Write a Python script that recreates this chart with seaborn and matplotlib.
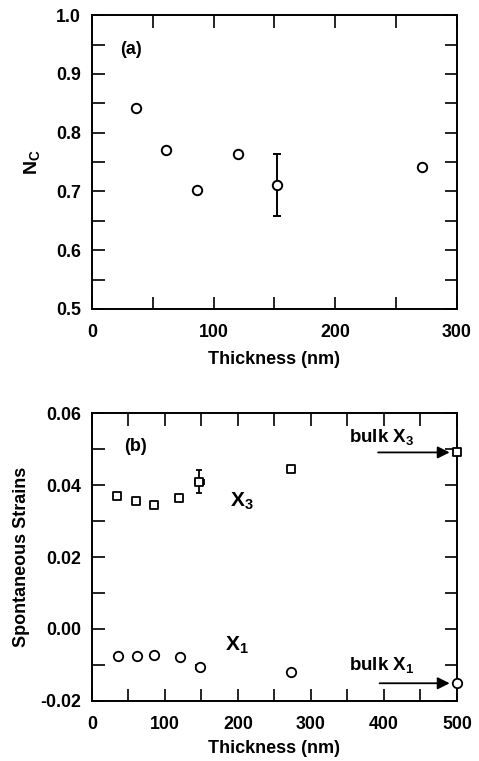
import numpy as np
import pandas as pd
import matplotlib
matplotlib.use("Agg")
import matplotlib.pyplot as plt
from matplotlib.ticker import MultipleLocator
import seaborn as sns

# panel (a): N_C vs thickness
thick_a = [36, 61, 86, 120, 152, 271]
nc = [0.842, 0.770, 0.703, 0.763, 0.711, 0.742]
nc_err_idx = 4
nc_err = 0.052

# panel (b): spontaneous strains vs thickness
thick_x3 = [34, 61, 85, 119, 147, 272, 500]
x3 = [0.0371, 0.0357, 0.0345, 0.0364, 0.0410, 0.0446, 0.0491]
thick_x1 = [35, 62, 85, 120, 148, 272, 500]
x1 = [-0.0076, -0.0076, -0.0073, -0.0078, -0.0105, -0.0120, -0.0150]
err_idx = 4
x3_yerr = 0.0033
x_err = 6

sns.set_style("ticks")
plt.rcParams['font.family'] = ['Liberation Sans', 'DejaVu Sans']
plt.rcParams['font.size'] = 12.5
plt.rcParams['font.weight'] = 'bold'
plt.rcParams['mathtext.default'] = 'regular'
plt.rcParams['axes.linewidth'] = 1.4
for key in ['text.color', 'axes.labelcolor', 'xtick.color', 'ytick.color', 'axes.edgecolor']:
    plt.rcParams[key] = 'black'

fig = plt.figure(figsize=(4.79, 7.61), dpi=100)
ax1 = fig.add_axes([0.192, 0.594, 0.762, 0.386])
ax2 = fig.add_axes([0.192, 0.079, 0.762, 0.378])

def style_axis(ax):
    ax.tick_params(which='both', direction='in', top=True, right=True,
                   width=1.2, labelsize=12.8)
    ax.tick_params(axis='x', which='both', pad=11)
    ax.tick_params(axis='y', which='both', pad=8)
    ax.tick_params(which='major', length=9)
    ax.tick_params(which='minor', length=9)
    for lab in ax.get_xticklabels() + ax.get_yticklabels():
        lab.set_fontweight('bold')
    for s in ax.spines.values():
        s.set_color('black')
        s.set_linewidth(1.4)

# (a)
df_a = pd.DataFrame({'t': thick_a, 'nc': nc})
ax1.errorbar(thick_a[nc_err_idx], nc[nc_err_idx], yerr=nc_err, fmt='none',
             ecolor='black', elinewidth=1.4, capsize=2.7, capthick=1.4, zorder=2)
sns.scatterplot(data=df_a, x='t', y='nc', ax=ax1, marker='o', s=46,
                facecolor='white', edgecolor='black', linewidth=1.4, zorder=3)
ax1.set_xlim(0, 300)
ax1.set_ylim(0.5, 1.0)
ax1.xaxis.set_major_locator(MultipleLocator(100))
ax1.xaxis.set_minor_locator(MultipleLocator(50))
ax1.yaxis.set_major_locator(MultipleLocator(0.1))
ax1.yaxis.set_minor_locator(MultipleLocator(0.05))
ax1.yaxis.set_major_formatter(plt.FormatStrFormatter('%.1f'))
ax1.set_xlabel('Thickness (nm)', fontsize=13, fontweight='bold', labelpad=7)
ax1.set_ylabel('N$_{C}$', fontsize=14, fontweight='bold', labelpad=10)
ax1.text(32, 0.942, '(a)', ha='center', va='center', fontsize=13, fontweight='bold')
style_axis(ax1)

# (b)
df_x3 = pd.DataFrame({'t': thick_x3, 'v': x3})
df_x1 = pd.DataFrame({'t': thick_x1, 'v': x1})
ax2.errorbar(thick_x3[err_idx], x3[err_idx], yerr=x3_yerr, xerr=x_err, fmt='none',
             ecolor='black', elinewidth=1.3, capsize=2.5, capthick=1.3, zorder=2)
ax2.errorbar(thick_x1[err_idx], x1[err_idx], xerr=x_err, fmt='none',
             ecolor='black', elinewidth=1.3, capsize=2.5, capthick=1.3, zorder=2)
sns.scatterplot(data=df_x3, x='t', y='v', ax=ax2, marker='s', s=38,
                facecolor='white', edgecolor='black', linewidth=1.3, zorder=3,
                clip_on=False)
sns.scatterplot(data=df_x1, x='t', y='v', ax=ax2, marker='o', s=46,
                facecolor='white', edgecolor='black', linewidth=1.3, zorder=3,
                clip_on=False)
ax2.set_xlim(0, 500)
ax2.set_ylim(-0.02, 0.06)
ax2.xaxis.set_major_locator(MultipleLocator(100))
ax2.xaxis.set_minor_locator(MultipleLocator(50))
ax2.yaxis.set_major_locator(MultipleLocator(0.02))
ax2.yaxis.set_minor_locator(MultipleLocator(0.01))
ax2.yaxis.set_major_formatter(plt.FormatStrFormatter('%.2f'))
ax2.set_xlabel('Thickness (nm)', fontsize=13, fontweight='bold', labelpad=5)
ax2.set_ylabel('Spontaneous Strains', fontsize=13, fontweight='bold', labelpad=7)
ax2.text(59, 0.0507, '(b)', ha='center', va='center', fontsize=13, fontweight='bold')
ax2.text(206, 0.0355, 'X$_{3}$', ha='center', va='center', fontsize=15, fontweight='bold')
ax2.text(198, -0.0045, 'X$_{1}$', ha='center', va='center', fontsize=15, fontweight='bold')
ax2.text(397, 0.0535, 'bulk X$_{3}$', ha='center', va='center', fontsize=13.5, fontweight='bold')
ax2.text(397, -0.0100, 'bulk X$_{1}$', ha='center', va='center', fontsize=13.5, fontweight='bold')
ax2.annotate('', xy=(490, 0.0491), xytext=(392, 0.0491),
             arrowprops=dict(arrowstyle='-|>', color='black', lw=1.3,
                             mutation_scale=18, shrinkA=0, shrinkB=0))
ax2.annotate('', xy=(490, -0.0151), xytext=(394, -0.0151),
             arrowprops=dict(arrowstyle='-|>', color='black', lw=1.3,
                             mutation_scale=18, shrinkA=0, shrinkB=0))
style_axis(ax2)

fig.savefig('out.png', dpi=100)
